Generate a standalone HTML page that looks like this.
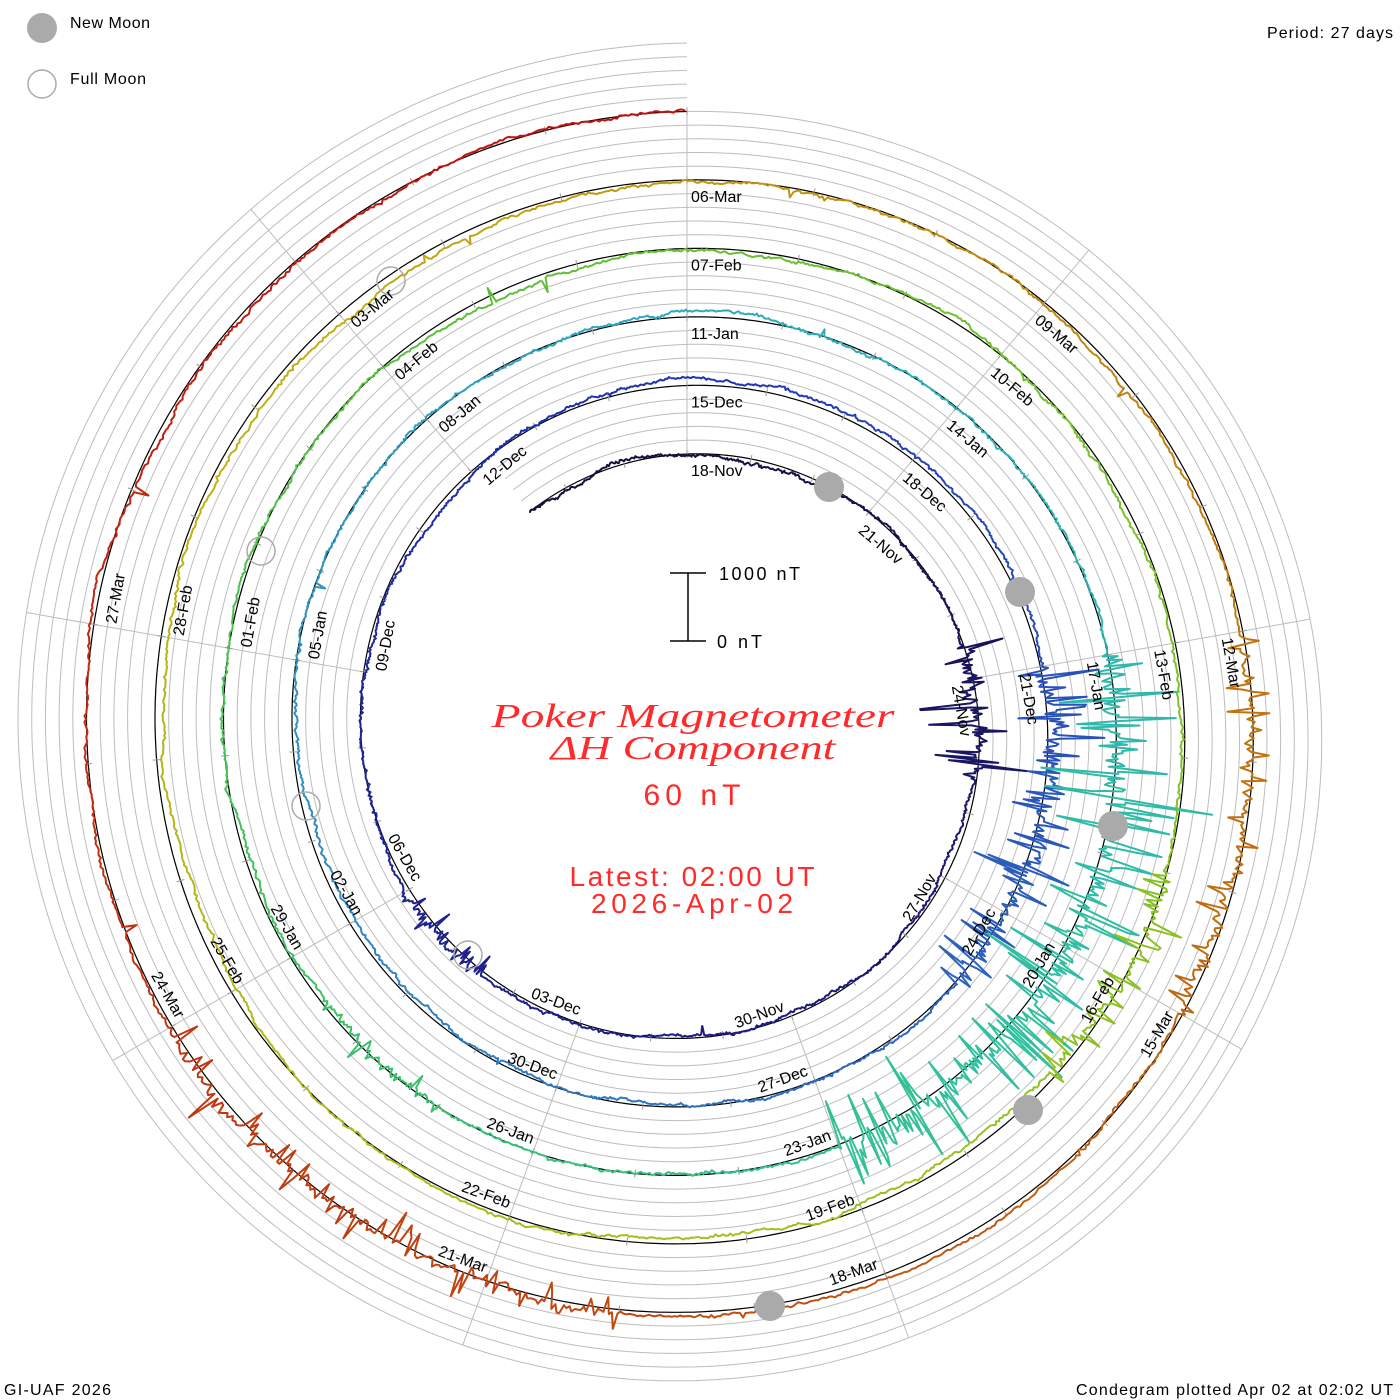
<!DOCTYPE html>
<html><head><meta charset="utf-8"><style>
html,body{margin:0;padding:0;background:#fff;}
svg{display:block;}
.lb{font-family:"Liberation Sans",sans-serif;font-size:16px;fill:#000;}
.r{fill:#ff2a2a;}
</style></head><body>
<svg id="s" width="1400" height="1400" viewBox="0 0 1400 1400" xmlns="http://www.w3.org/2000/svg">
<g id="grid"></g>
<g id="data"></g>
<g id="moons">
<circle cx="829" cy="487" r="15" fill="#aaa"/>
<circle cx="1020" cy="592" r="15" fill="#aaa"/>
<circle cx="1113" cy="826" r="15" fill="#aaa"/>
<circle cx="1028" cy="1110" r="15" fill="#aaa"/>
<circle cx="770" cy="1306" r="15" fill="#aaa"/>
<circle cx="391" cy="281" r="14" fill="none" stroke="#aaa" stroke-width="1.5"/>
<circle cx="261" cy="551" r="14" fill="none" stroke="#aaa" stroke-width="1.5"/>
<circle cx="306" cy="806" r="14" fill="none" stroke="#aaa" stroke-width="1.5"/>
<circle cx="468" cy="955" r="14" fill="none" stroke="#aaa" stroke-width="1.5"/>
<circle cx="42" cy="28" r="15" fill="#aaa"/>
<circle cx="42" cy="84" r="14" fill="none" stroke="#aaa" stroke-width="1.5"/>
</g>
<g class="lb">
<text x="70" y="28" textLength="80">New Moon</text>
<text x="70" y="84" textLength="76">Full Moon</text>
<text x="1393" y="38" text-anchor="end" textLength="126">Period: 27 days</text>
<text x="4" y="1395" textLength="107">GI-UAF 2026</text>
<text x="1393" y="1395" text-anchor="end" textLength="317">Condegram plotted Apr 02 at 02:02 UT</text>
<text x="719" y="580" font-size="18" textLength="81">1000 nT</text>
<text x="717" y="648" font-size="18" textLength="45">0 nT</text>
</g>
<g stroke="#000" stroke-width="1.5">
<line x1="688" y1="573" x2="688" y2="641"/>
<line x1="670" y1="573" x2="706" y2="573"/>
<line x1="670" y1="641" x2="706" y2="641"/>
</g>
<g class="r" text-anchor="middle">
<text x="693" y="727" font-family="'Liberation Serif',serif" font-style="italic" font-size="34" textLength="403" lengthAdjust="spacingAndGlyphs">Poker Magnetometer</text>
<text x="693" y="759" font-family="'Liberation Serif',serif" font-style="italic" font-size="34" textLength="285" lengthAdjust="spacingAndGlyphs">ΔH Component</text>
<text x="692" y="805" font-family="'Liberation Sans',sans-serif" font-size="30" textLength="97">60 nT</text>
<text x="692" y="886" font-family="'Liberation Sans',sans-serif" font-size="28" textLength="245">Latest: 02:00 UT</text>
<text x="692" y="913" font-family="'Liberation Sans',sans-serif" font-size="28" textLength="202">2026-Apr-02</text>
</g>
<g class="lb">
<text transform="translate(687 729) rotate(0)" x="4" y="-253">18-Nov</text>
<text transform="translate(687 729) rotate(40)" x="4" y="-260.6">21-Nov</text>
<text transform="translate(687 729) rotate(80)" x="4" y="-268.2">24-Nov</text>
<text transform="translate(687 729) rotate(-60)" x="-4" y="290.8" text-anchor="end">27-Nov</text>
<text transform="translate(687 729) rotate(-20)" x="-4" y="298.4" text-anchor="end">30-Nov</text>
<text transform="translate(687 729) rotate(20)" x="-4" y="306.1" text-anchor="end">03-Dec</text>
<text transform="translate(687 729) rotate(60)" x="-4" y="313.7" text-anchor="end">06-Dec</text>
<text transform="translate(687 729) rotate(280)" x="4" y="-306.3">09-Dec</text>
<text transform="translate(687 729) rotate(320)" x="4" y="-313.9">12-Dec</text>
<text transform="translate(687 729) rotate(0)" x="4" y="-321.5">15-Dec</text>
<text transform="translate(687 729) rotate(40)" x="4" y="-329.1">18-Dec</text>
<text transform="translate(687 729) rotate(80)" x="4" y="-336.7">21-Dec</text>
<text transform="translate(687 729) rotate(-60)" x="-4" y="359.3" text-anchor="end">24-Dec</text>
<text transform="translate(687 729) rotate(-20)" x="-4" y="366.9" text-anchor="end">27-Dec</text>
<text transform="translate(687 729) rotate(20)" x="-4" y="374.6" text-anchor="end">30-Dec</text>
<text transform="translate(687 729) rotate(60)" x="-4" y="382.2" text-anchor="end">02-Jan</text>
<text transform="translate(687 729) rotate(280)" x="4" y="-374.8">05-Jan</text>
<text transform="translate(687 729) rotate(320)" x="4" y="-382.4">08-Jan</text>
<text transform="translate(687 729) rotate(0)" x="4" y="-390">11-Jan</text>
<text transform="translate(687 729) rotate(40)" x="4" y="-397.6">14-Jan</text>
<text transform="translate(687 729) rotate(80)" x="4" y="-405.2">17-Jan</text>
<text transform="translate(687 729) rotate(-60)" x="-4" y="427.8" text-anchor="end">20-Jan</text>
<text transform="translate(687 729) rotate(-20)" x="-4" y="435.4" text-anchor="end">23-Jan</text>
<text transform="translate(687 729) rotate(20)" x="-4" y="443.1" text-anchor="end">26-Jan</text>
<text transform="translate(687 729) rotate(60)" x="-4" y="450.7" text-anchor="end">29-Jan</text>
<text transform="translate(687 729) rotate(280)" x="4" y="-443.3">01-Feb</text>
<text transform="translate(687 729) rotate(320)" x="4" y="-450.9">04-Feb</text>
<text transform="translate(687 729) rotate(0)" x="4" y="-458.5">07-Feb</text>
<text transform="translate(687 729) rotate(40)" x="4" y="-466.1">10-Feb</text>
<text transform="translate(687 729) rotate(80)" x="4" y="-473.7">13-Feb</text>
<text transform="translate(687 729) rotate(-60)" x="-4" y="496.3" text-anchor="end">16-Feb</text>
<text transform="translate(687 729) rotate(-20)" x="-4" y="503.9" text-anchor="end">19-Feb</text>
<text transform="translate(687 729) rotate(20)" x="-4" y="511.6" text-anchor="end">22-Feb</text>
<text transform="translate(687 729) rotate(60)" x="-4" y="519.2" text-anchor="end">25-Feb</text>
<text transform="translate(687 729) rotate(280)" x="4" y="-511.8">28-Feb</text>
<text transform="translate(687 729) rotate(320)" x="4" y="-519.4">03-Mar</text>
<text transform="translate(687 729) rotate(0)" x="4" y="-527">06-Mar</text>
<text transform="translate(687 729) rotate(40)" x="4" y="-534.6">09-Mar</text>
<text transform="translate(687 729) rotate(80)" x="4" y="-542.2">12-Mar</text>
<text transform="translate(687 729) rotate(-60)" x="-4" y="564.8" text-anchor="end">15-Mar</text>
<text transform="translate(687 729) rotate(-20)" x="-4" y="572.4" text-anchor="end">18-Mar</text>
<text transform="translate(687 729) rotate(20)" x="-4" y="580.1" text-anchor="end">21-Mar</text>
<text transform="translate(687 729) rotate(60)" x="-4" y="587.7" text-anchor="end">24-Mar</text>
<text transform="translate(687 729) rotate(280)" x="4" y="-580.3">27-Mar</text>
</g>
</svg>
<script>
(function(){
var NS="http://www.w3.org/2000/svg",cx=687,cy=729,T0=-0.1,T1=5;
function R(t){return 275+68.5*t;}
function P(t,o){var a=t*2*Math.PI,r=R(t)+o;return [cx+r*Math.sin(a),cy-r*Math.cos(a)];}
function path(parent,d,stroke,w){var p=document.createElementNS(NS,"path");p.setAttribute("d",d);p.setAttribute("fill","none");p.setAttribute("stroke",stroke);p.setAttribute("stroke-width",w);p.setAttribute("stroke-linejoin","round");parent.appendChild(p);}
var g=document.getElementById("grid"),dg=document.getElementById("data");
for(var k=1;k<=5;k++){var d="";for(var t=T0;t<=T1+1e-9;t+=0.002){var q=P(t,13.7*k);d+=(d?"L":"M")+q[0].toFixed(1)+" "+q[1].toFixed(1);}path(g,d,"#bdbdbd",1);}
for(var j=0;j<9;j++){var f=j/9,a=f*2*Math.PI,ti=(f-1>=T0)?f-1:f,to=(j==0)?5:4+f,ri=R(ti),ro=R(to)+(j==0?0:68.5);
path(g,"M"+(cx+ri*Math.sin(a))+" "+(cy-ri*Math.cos(a))+"L"+(cx+ro*Math.sin(a))+" "+(cy-ro*Math.cos(a)),"#bdbdbd",1);}
var d="";for(var t=T0;t<=T1+1e-9;t+=0.002){var q=P(t,0);d+=(d?"L":"M")+q[0].toFixed(1)+" "+q[1].toFixed(1);}path(g,d,"#000",1.2);
for(var n=-2;n<=135;n++){var t=n/27;if(t<T0)continue;var a=P(t,-4),b=P(t,4);path(g,"M"+a[0]+" "+a[1]+"L"+b[0]+" "+b[1],"#999",1);}
var s=777;function rnd(){s|=0;s=s+0x6D2B79F5|0;var x=Math.imul(s^s>>>15,1|s);x=x+Math.imul(x^x>>>7,61|x)^x;return ((x^x>>>14)>>>0)/4294967296;}
function gs(){return rnd()+rnd()+rnd()-1.5;}
var stops=[[0,[20,16,60]],[0.5,[30,26,128]],[1,[32,48,176]],[1.5,[48,112,192]],[2,[48,168,192]],[2.4,[48,192,160]],[2.7,[64,192,96]],[3,[96,192,48]],[3.5,[160,192,32]],[3.9,[192,176,16]],[4,[192,154,16]],[4.3,[192,112,16]],[4.6,[192,64,16]],[5,[192,16,16]]];
function col(t){for(var i=1;i<stops.length;i++){if(t<=stops[i][0]){var A=stops[i-1],B=stops[i],u=Math.max(0,(t-A[0])/(B[0]-A[0]));return "rgb("+[0,1,2].map(function(c){return Math.round(A[1][c]+(B[1][c]-A[1][c])*u)}).join(",")+")";}}return "rgb(192,16,16)";}
var ev=[[5.5,7.5,22],[16.5,18,10],[33,37,22],[60,66,35],[70,71.5,10],[89,91,12],[114,117,14],[122,126,13]];
function evAmp(day){for(var i=0;i<ev.length;i++){if(day>=ev[i][0]&&day<=ev[i][1])return ev[i][2];}return 0;}
var step=1/(27*48),v=0,pts=[];
for(var t=T0;t<=T1+1e-9;t+=step){var day=t*27;v=v*0.993+gs()*0.9;if(v>22)v=22;if(v<-22)v=-22;var o=v+gs()*1.2;var A=evAmp(day);
if(A){if(rnd()<0.3)o+=gs()*A*2.2;else o+=gs()*A*0.4;}else if(rnd()<0.006){o+=gs()*18;}
var q=P(t,o);pts.push(q);
if(pts.length>=60){var dd="";for(var i=0;i<pts.length;i++)dd+=(i?"L":"M")+pts[i][0].toFixed(1)+" "+pts[i][1].toFixed(1);path(dg,dd,col(t),2);pts=[pts[pts.length-1]];}}
if(pts.length>1){var dd="";for(var i=0;i<pts.length;i++)dd+=(i?"L":"M")+pts[i][0].toFixed(1)+" "+pts[i][1].toFixed(1);path(dg,dd,col(5),2);}
})();
</script>
</body></html>
